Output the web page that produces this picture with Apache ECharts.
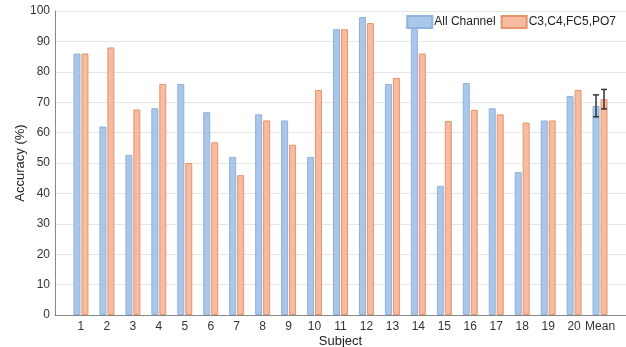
<!DOCTYPE html>
<html>
<head>
<meta charset="utf-8">
<script src="https://cdn.jsdelivr.net/npm/echarts@6/dist/echarts.min.js"></script>
<style>
  html, body { margin: 0; padding: 0; background: #fff; }
  #chart { width: 626px; height: 347px; }
</style>
</head>
<body>
<div id="chart"></div>
<script>
// Subjects along the x axis (last group is the mean across subjects)
const subjects = ['1','2','3','4','5','6','7','8','9','10','11','12','13','14','15','16','17','18','19','20','Mean'];

// Classification accuracy (%) per subject
const allChannel = [86, 62, 52.7, 68, 76, 66.7, 52, 66, 64, 52, 94, 98, 76, 94, 42.5, 76.3, 68, 47, 64, 72, 68.8];
const selectedChannels = [86, 88, 67.6, 76, 50, 56.8, 46, 64, 56, 74, 94, 96, 78, 86, 63.8, 67.5, 66, 63.3, 64, 74, 71];

// Standard deviation shown on the Mean group
const meanErrAll = 3.6;
const meanErrSel = 3.2;

const yTicks = { min: 0, max: 100, step: 10 };

const seriesNames = ['All Channel', 'C3,C4,FC5,PO7'];

const chart = echarts.init(document.getElementById('chart'));

const toPairs = arr => arr.map((v, i) => [i, v]);
const meanIdx = subjects.length - 1;

const barW = 7;
const barOffset = 4; // half of bar width plus a 1px gap

function errorBar(offsetPx) {
  return function (params, api) {
    const x = api.value(0);
    const lo = api.coord([x, api.value(1)]);
    const hi = api.coord([x, api.value(2)]);
    const cx = lo[0] + offsetPx;
    const cap = 3;
    const style = { stroke: '#333', lineWidth: 1.5 };
    return {
      type: 'group',
      children: [
        { type: 'line', shape: { x1: cx, y1: lo[1], x2: cx, y2: hi[1] }, style },
        { type: 'line', shape: { x1: cx - cap, y1: lo[1], x2: cx + cap, y2: lo[1] }, style },
        { type: 'line', shape: { x1: cx - cap, y1: hi[1], x2: cx + cap, y2: hi[1] }, style }
      ]
    };
  };
}

const font = 'Liberation Sans, Arial, sans-serif';

chart.setOption({
  animation: false,
  textStyle: { fontFamily: font },
  grid: { left: 55, right: 0, top: 11, bottom: 32, containLabel: false, outerBoundsMode: 'none' },
  legend: {
    orient: 'horizontal',
    right: 5,
    top: 10,
    itemWidth: 25,
    itemHeight: 12,
    itemGap: 5,
    icon: 'rect',
    textStyle: { fontSize: 12, color: '#222', fontFamily: font, padding: [0, 0, 0, -3] },
    data: seriesNames
  },
  xAxis: {
    type: 'value',
    min: -1,
    max: 21,
    interval: 1,
    name: 'Subject',
    nameLocation: 'middle',
    nameGap: 20,
    nameMoveOverlap: false,
    nameTextStyle: { fontSize: 13, color: '#222' },
    axisLine: { show: true, onZero: false, lineStyle: { color: '#888', width: 1 } },
    axisTick: { show: false },
    splitLine: { show: false },
    axisLabel: {
      fontSize: 12,
      color: '#333',
      margin: 6,
      showMinLabel: true,
      showMaxLabel: true,
      formatter: v => (v >= 0 && v < subjects.length ? subjects[v] : '')
    }
  },
  yAxis: {
    type: 'value',
    min: yTicks.min,
    max: yTicks.max,
    interval: yTicks.step,
    name: 'Accuracy (%)',
    nameLocation: 'middle',
    nameGap: 28,
    nameMoveOverlap: false,
    nameTextStyle: { fontSize: 13, color: '#222' },
    axisLine: { show: true, onZero: false, lineStyle: { color: '#888', width: 1 } },
    axisTick: { show: false },
    axisLabel: { fontSize: 12, color: '#333', margin: 5 },
    splitLine: { lineStyle: { color: '#e6e6e6', width: 1 } }
  },
  series: [
    {
      name: seriesNames[0],
      type: 'bar',
      barWidth: barW,
      barGap: '14%',
      data: toPairs(allChannel),
      itemStyle: { color: '#aac6e8', borderColor: '#8fb2de', borderWidth: 1 }
    },
    {
      name: seriesNames[1],
      type: 'bar',
      barWidth: barW,
      barGap: '14%',
      data: toPairs(selectedChannels),
      itemStyle: { color: '#f6bba1', borderColor: '#e8936c', borderWidth: 1 }
    },
    {
      type: 'custom',
      renderItem: errorBar(-barOffset),
      data: [[meanIdx, allChannel[meanIdx] - meanErrAll, allChannel[meanIdx] + meanErrAll]],
      z: 10
    },
    {
      type: 'custom',
      renderItem: errorBar(barOffset),
      data: [[meanIdx, selectedChannels[meanIdx] - meanErrSel, selectedChannels[meanIdx] + meanErrSel]],
      z: 10
    }
  ]
});
</script>
</body>
</html>
